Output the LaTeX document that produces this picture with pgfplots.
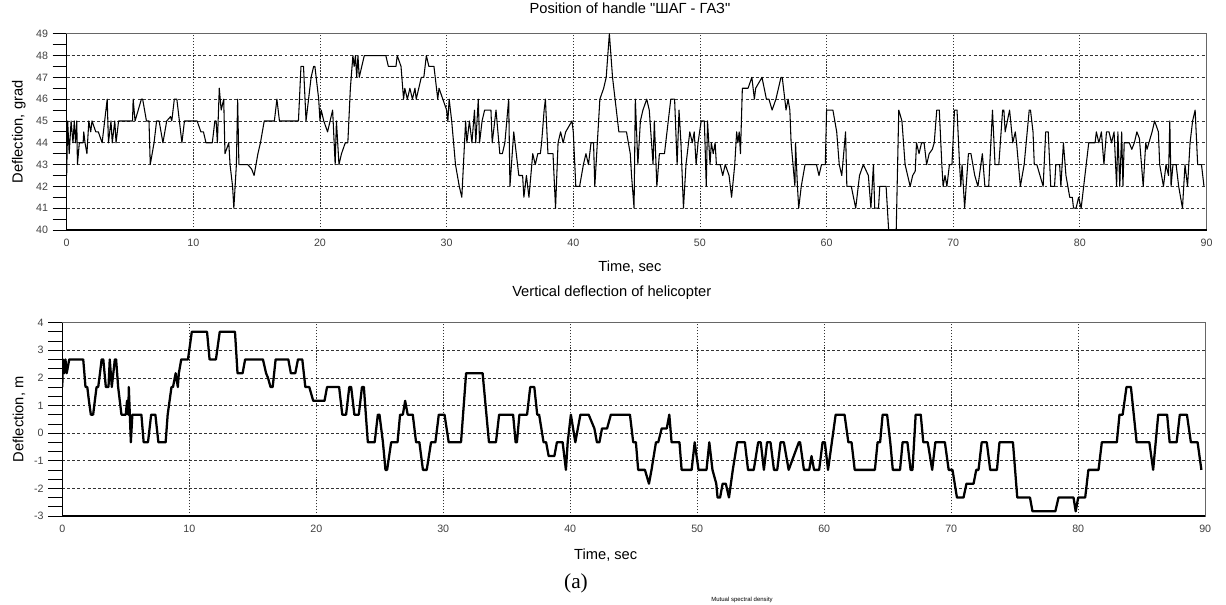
\documentclass[border=0pt]{standalone}
\usepackage{fontspec}
\setmainfont{Liberation Sans}[Ligatures=TeXOff]
\newfontfamily\timesfont{Liberation Serif}
\usepackage{pgfplots}
\pgfplotsset{compat=1.18}

\pgfplotsset{
  panel/.style={
    scale only axis,
    anchor=south west,
    xmin=0, xmax=90,
    xtick={0,10,...,90},
    minor x tick num=1,
    tick pos=left,
    tick align=outside,
    major tick length=10.5pt,
    minor tick length=10.5pt,
    xtick style={draw=none},
    xticklabel style={yshift=7.5pt},
    tick style={black, line width=0.6pt},
    axis line style={black!60, line width=0.8pt},
    xmajorgrids, ymajorgrids,
    x grid style={black!80, line width=0.6pt, dash pattern=on 1pt off 1.2pt},
    y grid style={black!80, line width=0.6pt, dash pattern=on 2.2pt off 1.6pt},
    ticklabel style={font=\fontsize{8}{9}\selectfont, text=black!75},
    /pgf/number format/assume math mode=true,
    label style={font=\fontsize{11}{13}\selectfont},
    title style={font=\fontsize{11}{13}\selectfont, anchor=center},
    after end axis/.code={
      \draw[black, line width=0.8pt] (rel axis cs:0,1) -- (rel axis cs:0,0) -- (rel axis cs:1,0);
    },
  },
}

\begin{document}
\begin{tikzpicture}
\path[use as bounding box] (0,0) rectangle (919.5pt,453pt);

% upper panel: handle position
\begin{axis}[panel,
  at={(50.0pt,280.5pt)},
  width=854.9pt, height=147.2pt,
  ymin=40, ymax=49,
  ytick={40,41,...,49},
  minor y tick num=1,
  title={Position of handle "ШАГ - ГАЗ"},
  title style={at={([xshift=-5pt,yshift=13.3pt]axis description cs:0.5,1)}},
  xlabel={Time, sec},
  xlabel style={at={([xshift=-5pt,yshift=-27.8pt]axis description cs:0.5,0)}, anchor=center},
  ylabel={Deflection, grad},
  ylabel style={at={([xshift=-35.8pt]axis description cs:0,0.5)}, anchor=center},
]
\addplot[black, line width=0.8pt, line join=round] table {
0 42.5
0.08 45
0.2 43.5
0.35 45
0.5 44
0.6 45
0.7 44
0.8 45
0.85 43
1.0 44
1.3 44
1.35 44.5
1.45 44
1.6 43.5
1.75 45
1.9 44.5
2.0 45
2.3 44.5
2.5 44.5
2.8 44
3.0 45
3.2 46
3.3 44
3.5 45
3.6 44
3.8 45
3.9 44
4.1 45
5.2 45
5.25 46
5.4 45
5.9 46
6.0 46
6.3 45
6.5 45
6.6 43
6.9 44
7.1 45
7.3 45
7.6 44
7.9 45
8.2 45.2
8.3 45
8.5 46
8.7 46
8.9 45
9.1 44
9.3 45
10.3 45
10.6 44.5
10.8 44.5
11.0 44
11.5 44
11.7 45
11.8 45
11.9 44
12.05 46.5
12.2 45.5
12.4 46
12.5 43.5
12.8 44
12.9 43
13.1 42
13.2 41
13.4 43
13.5 46
13.6 43
14.3 43
14.6 42.8
14.8 42.5
15.1 43.5
15.3 44
15.6 45
16.4 45
16.6 46
16.8 45
18.3 45
18.5 47.5
18.7 47.5
18.9 45
19.3 47
19.5 47.5
19.6 47.5
19.9 46
20.0 45
20.1 45.5
20.3 45
20.6 44.5
21.0 45.5
21.2 43
21.3 45
21.5 43
21.7 43.5
22.0 44
22.2 44
22.4 46.5
22.6 48
22.7 47.5
22.8 48
22.9 47
23.0 48
23.1 47
23.5 48
25.2 48
25.4 47.5
26.0 47.5
26.1 48
26.4 47.5
26.6 46
26.7 46.5
26.9 46
27.1 46.5
27.3 46
27.5 46.5
27.6 46
28.0 47
28.2 47
28.4 48
28.6 47.5
29.0 47.5
29.3 46
29.4 46.5
29.7 46
30.0 45.5
30.1 45
30.2 46
30.4 45
30.7 43
31.0 42
31.2 41.5
31.5 45
31.6 44
31.8 45
32.0 44
32.2 45.5
32.3 44
32.5 46
32.6 44
32.8 45
33.0 45.5
33.5 45.5
33.6 44
33.9 45.5
34.2 43.5
34.4 43.5
34.6 44
34.9 46
35.0 42
35.3 44.5
35.7 42.5
36.0 42.5
36.1 41.5
36.3 42.5
36.5 41.5
36.8 43.5
37.0 43
37.2 43.5
37.4 43.5
37.5 44
37.7 45.5
37.8 46
38.0 43.5
38.4 43.5
38.6 41
38.8 44
39.0 44.5
39.2 44
39.4 44.5
39.6 44.7
39.9 45
40.0 44.5
40.2 42
40.5 42
40.8 43
41.0 43.5
41.2 43
41.4 44
41.6 44
41.7 42
41.9 44
42.1 46
42.4 46.5
42.6 47
42.85 49
43.1 47
43.4 45.5
43.6 44.5
44.2 44.5
44.5 43.5
44.6 42.5
44.8 41
44.9 46
45.1 43
45.3 45
45.5 45.5
45.8 46
46.0 45.5
46.3 43
46.4 45
46.6 42
46.8 43.5
47.2 43.5
47.6 45.5
47.7 46
48.0 46
48.2 43
48.35 45.5
48.5 44
48.7 41
48.9 43
49.1 44
49.2 44.5
49.4 44
49.55 44.5
49.7 43
49.85 44
50.1 45
50.35 45
50.5 42
50.6 45
50.8 43
50.9 44
51.05 43.5
51.2 44
51.3 43
51.6 43
51.8 42.5
52.0 43
52.3 42.5
52.5 41.5
52.75 43
52.9 44.5
53.0 44
53.1 44.5
53.2 43.5
53.35 46.5
53.8 46.5
54.1 47
54.3 46
54.4 46.5
54.9 47
55.25 46
55.45 46
55.7 45.5
56.0 46
56.4 47
56.5 47
56.7 46
56.8 45.5
56.96 46
57.1 45.5
57.2 44
57.35 43
57.5 42
57.55 44
57.7 42
57.8 41
58.0 42
58.3 43
59.2 43
59.4 42.5
59.6 43
59.9 43
60.0 45.5
60.5 45.5
60.8 44.5
61.0 43
61.2 42.5
61.5 44.5
61.6 42
61.95 42
62.3 41
62.6 42.5
62.9 43
63.3 42.5
63.5 41
63.7 43
63.8 41
64.1 41
64.2 42
64.7 42
64.9 40
65.5 40
65.7 45.5
65.95 45
66.2 43
66.6 42
66.8 42.5
67.0 42.7
67.1 44
67.3 43.5
67.5 44
67.7 44
67.9 43
68.1 43.5
68.35 43.7
68.5 44
68.7 45.5
68.9 45.5
69.1 43
69.2 42
69.35 42.5
69.5 42
69.7 43
69.9 43
70.1 45.5
70.3 45.5
70.5 43
70.6 42
70.7 43
70.9 41
71.2 43.5
71.4 43.5
71.7 42.5
71.95 42
72.3 43.5
72.5 42
72.8 42
73.1 45.5
73.3 43
73.6 43
73.9 45.5
74.0 45.5
74.1 44.5
74.45 45.5
74.7 44
74.9 44.5
75.0 44
75.3 42
75.6 43
76.0 45.5
76.1 45.5
76.3 44.5
76.4 43
76.6 43
77.1 42
77.3 44.5
77.5 44.5
77.7 42
78.0 42
78.1 43
78.4 43
78.5 42
78.7 44
78.9 42.5
79.2 41.5
79.4 41.5
79.5 41
79.7 41
79.9 41.5
80.1 41
80.4 42.5
80.5 43
80.7 44
81.2 44
81.3 44.5
81.5 44
81.7 44.5
81.9 43
82.1 44.5
82.3 44.5
82.5 44
82.7 44.5
82.9 42
83.0 44.5
83.15 42
83.3 44.5
83.4 42
83.5 44
83.9 44
84.1 43.7
84.3 44
84.5 44.5
84.7 44.2
85.0 42
85.2 44
85.3 43.7
85.7 44.5
85.9 45
86.2 44.5
86.3 43
86.6 42
86.8 43
87.0 42.5
87.1 45
87.2 42
87.35 43
87.6 43
87.8 42
88.1 41
88.3 43
88.5 42
88.6 43
88.7 44
88.9 45
89.1 45.5
89.3 43
89.6 43
89.8 42
};
\end{axis}

% lower panel: vertical deflection
\begin{axis}[panel,
  at={(46.7pt,66.0pt)},
  width=857.2pt, height=145.0pt,
  ymin=-3, ymax=4,
  ytick={-3,-2,...,4},
  minor y tick num=2,
  title={Vertical deflection of helicopter},
  title style={at={([xshift=-16.5pt,yshift=16.5pt]axis description cs:0.5,1)}},
  xlabel={Time, sec},
  xlabel style={at={([xshift=-21pt,yshift=-29.3pt]axis description cs:0.5,0)}, anchor=center},
  ylabel={Deflection, m},
  ylabel style={at={([xshift=-32.5pt]axis description cs:0,0.5)}, anchor=center},
]
\addplot[black, line width=1.7pt, line join=round] table {
0 1.67
0.05 2.67
0.15 2.17
0.25 2.67
0.35 2.17
0.55 2.67
1.65 2.67
1.83 1.67
1.97 1.67
2.1 1.17
2.25 0.67
2.43 0.67
2.7 1.67
2.83 1.67
2.97 2.17
3.1 2.67
3.23 2.67
3.43 1.67
3.64 1.67
3.74 2.67
3.9 1.67
4.14 2.67
4.24 2.67
4.4 1.67
4.53 1.17
4.66 0.67
5.0 0.67
5.1 1.17
5.2 0.67
5.24 1.67
5.4 -0.33
5.52 0.67
6.23 0.67
6.41 -0.33
6.75 -0.33
7.0 0.67
7.33 0.67
7.57 -0.33
8.14 -0.33
8.3 0.67
8.6 1.67
8.72 1.67
8.93 2.17
9.1 1.67
9.18 2.17
9.37 2.67
9.9 2.67
10.2 3.67
11.4 3.67
11.6 2.67
12.1 2.67
12.4 3.67
13.6 3.67
13.8 2.17
14.2 2.17
14.4 2.67
15.8 2.67
16.05 2.17
16.2 2.0
16.4 1.67
16.57 1.67
16.8 2.67
17.8 2.67
18.0 2.17
18.35 2.17
18.56 2.67
18.9 2.67
19.14 1.67
19.45 1.67
19.76 1.17
20.65 1.17
20.85 1.67
21.8 1.67
22.05 0.67
22.35 0.67
22.6 1.67
22.75 1.67
23.0 0.67
23.35 0.67
23.6 1.67
23.75 1.67
24.06 -0.33
24.6 -0.33
24.85 0.67
24.98 0.67
25.25 -0.33
25.45 -1.33
25.58 -1.33
25.9 -0.33
26.4 -0.33
26.6 0.67
26.82 0.67
27.0 1.17
27.2 0.67
27.6 0.67
27.86 -0.33
28.12 -0.33
28.4 -1.33
28.7 -1.33
29.04 -0.33
29.38 -0.33
29.65 0.67
30.1 0.67
30.43 -0.33
31.4 -0.33
31.8 2.17
33.1 2.17
33.6 -0.33
34.15 -0.33
34.4 0.67
35.5 0.67
35.7 -0.33
35.8 -0.33
36.0 0.67
36.6 0.67
36.85 1.67
37.17 1.67
37.4 0.67
37.55 0.67
37.9 -0.33
38.1 -0.33
38.3 -0.83
38.75 -0.83
38.95 -0.33
39.4 -0.33
39.66 -1.33
39.8 -0.33
40.05 0.67
40.4 -0.33
40.8 0.67
41.45 0.67
41.9 0.17
42.1 -0.33
42.3 -0.33
42.5 0.17
42.9 0.17
43.2 0.67
44.7 0.67
44.96 -0.33
45.17 -0.33
45.35 -1.33
45.88 -1.33
46.2 -1.83
46.4 -1.33
46.75 -0.33
46.93 -0.33
47.2 0.17
47.6 0.17
47.8 0.67
47.98 -0.33
48.6 -0.33
48.77 -1.33
49.56 -1.33
49.8 -0.33
50.1 -1.33
50.73 -1.33
50.95 -0.33
51.2 -1.33
51.5 -1.83
51.6 -2.33
51.8 -2.33
52.0 -1.83
52.25 -1.83
52.5 -2.33
52.8 -1.33
53.15 -0.33
53.75 -0.33
54.0 -1.33
54.45 -1.33
54.8 -0.33
55.0 -0.33
55.25 -1.33
55.5 -0.33
55.77 -0.33
56.04 -1.33
56.3 -1.33
56.56 -0.33
56.82 -0.33
57.2 -1.33
57.6 -0.83
58.0 -0.33
58.1 -0.33
58.4 -1.33
58.82 -1.33
59.0 -0.83
59.2 -1.33
59.6 -1.33
59.87 -0.33
60.05 -0.33
60.3 -1.33
60.6 -0.33
60.9 0.67
61.6 0.67
61.9 -0.33
62.15 -0.33
62.4 -1.33
63.99 -1.33
64.2 -0.33
64.4 -0.33
64.6 0.67
64.95 0.67
65.2 -0.33
65.4 -1.33
65.97 -1.33
66.17 -0.33
66.55 -0.33
66.8 -1.33
66.95 -1.33
67.2 0.67
67.6 0.67
67.8 -0.33
68.15 -0.33
68.5 -1.33
68.75 -0.33
69.5 -0.33
69.8 -1.33
70.1 -1.33
70.45 -2.33
70.97 -2.33
71.2 -1.83
71.76 -1.83
71.97 -1.33
72.15 -1.33
72.4 -0.33
72.8 -0.33
73.07 -1.33
73.6 -1.33
73.8 -0.33
74.86 -0.33
75.2 -2.33
76.2 -2.33
76.4 -2.83
78.2 -2.83
78.45 -2.33
79.63 -2.33
79.8 -2.83
80.0 -2.33
80.55 -2.33
80.8 -1.33
81.6 -1.33
81.86 -0.33
83.04 -0.33
83.25 0.67
83.5 0.67
83.8 1.67
84.15 1.67
84.6 -0.33
85.6 -0.33
85.9 -1.33
86.3 0.67
87.0 0.67
87.2 -0.33
87.75 -0.33
88.0 0.67
88.56 0.67
88.87 -0.33
89.4 -0.33
89.7 -1.33
};
\end{axis}

\node[font=\timesfont\fontsize{16}{18}\selectfont] at (432pt,15.8pt) {(a)};
\node[anchor=south, font=\fontsize{4.5}{5}\selectfont, inner sep=0pt] at (556.5pt,0.6pt) {Mutual spectral density};
\end{tikzpicture}
\end{document}
